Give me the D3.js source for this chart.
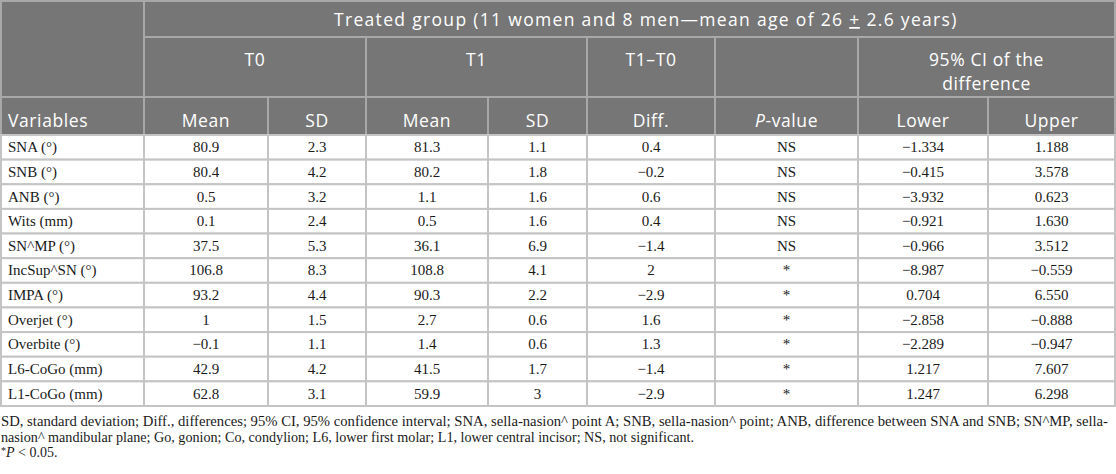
<!DOCTYPE html>
<html>
<head>
<meta charset="utf-8">
<script src="https://cdn.jsdelivr.net/npm/d3@7"></script>
<style>
  body { margin: 0; background: #fff; }
</style>
</head>
<body>
<div id="table"></div>
<script>
document.addEventListener('DOMContentLoaded', () => {

  // table values
  const variables = ['SNA (°)', 'SNB (°)', 'ANB (°)', 'Wits (mm)', 'SN^MP (°)', 'IncSup^SN (°)',
                     'IMPA (°)', 'Overjet (°)', 'Overbite (°)', 'L6-CoGo (mm)', 'L1-CoGo (mm)'];
  const t0Mean = ['80.9', '80.4', '0.5', '0.1', '37.5', '106.8', '93.2', '1', '−0.1', '42.9', '62.8'];
  const t0SD = ['2.3', '4.2', '3.2', '2.4', '5.3', '8.3', '4.4', '1.5', '1.1', '4.2', '3.1'];
  const t1Mean = ['81.3', '80.2', '1.1', '0.5', '36.1', '108.8', '90.3', '2.7', '1.4', '41.5', '59.9'];
  const t1SD = ['1.1', '1.8', '1.6', '1.6', '6.9', '4.1', '2.2', '0.6', '0.6', '1.7', '3'];
  const diffs = ['0.4', '−0.2', '0.6', '0.4', '−1.4', '2', '−2.9', '1.6', '1.3', '−1.4', '−2.9'];
  const pValues = ['NS', 'NS', 'NS', 'NS', 'NS', '*', '*', '*', '*', '*', '*'];
  const ciLower = ['−1.334', '−0.415', '−3.932', '−0.921', '−0.966', '−8.987', '0.704', '−2.858', '−2.289', '1.217', '1.247'];
  const ciUpper = ['1.188', '3.578', '0.623', '1.630', '3.512', '−0.559', '6.550', '−0.888', '−0.947', '7.607', '6.298'];

  const subHeaders = ['Variables', 'Mean', 'SD', 'Mean', 'SD', 'Diff.', 'P-value', 'Lower', 'Upper'];
  const groupTitle = 'Treated group (11 women and 8 men—mean age of 26 + 2.6 years)';
  const footnotes = [
    'SD, standard deviation; Diff., differences; 95% CI, 95% confidence interval; SNA, sella-nasion^ point A; SNB, sella-nasion^ point; ANB, difference between SNA and SNB; SN^MP, sella-',
    'nasion^ mandibular plane; Go, gonion; Co, condylion; L6, lower first molar; L1, lower central incisor; NS, not significant.'
  ];

  const width = 1116;
  const height = 474;

  // layout
  const colEdges = [1, 144, 268, 366, 488, 587, 715, 858, 988, 1115];
  const headEdges = [1, 37, 97, 135];
  const bodyBottom = 406;

  const headFill = '#767676';
  const headLine = '#a8a8a8';
  const bodyLine = '#c4c4c4';
  const sans = "'Open Sans', 'Noto Sans', sans-serif";
  const serif = "'Liberation Serif', 'DejaVu Serif', serif";

  const svg = d3.select('#table')
                .append('svg')
                .attr('width', width)
                .attr('height', height);

  const y = d3.scaleBand()
              .domain(variables)
              .range([headEdges[3], bodyBottom]);

  const colMid = (c0, c1) => (colEdges[c0] + colEdges[c1]) / 2;

  // header cells
  const headCells = [
    { c0: 0, c1: 1, r0: 0, r1: 2 },
    { c0: 1, c1: 9, r0: 0, r1: 1 },
    { c0: 1, c1: 3, r0: 1, r1: 2 },
    { c0: 3, c1: 5, r0: 1, r1: 2 },
    { c0: 5, c1: 6, r0: 1, r1: 2 },
    { c0: 6, c1: 7, r0: 1, r1: 2 },
    { c0: 7, c1: 9, r0: 1, r1: 2 }
  ];
  subHeaders.forEach((d, i) => headCells.push({ c0: i, c1: i + 1, r0: 2, r1: 3 }));

  svg.append('g')
     .selectAll('rect')
     .data(headCells)
     .enter()
     .append('rect')
     .attr('x', (d) => colEdges[d.c0])
     .attr('y', (d) => headEdges[d.r0])
     .attr('width', (d) => colEdges[d.c1] - colEdges[d.c0])
     .attr('height', (d) => headEdges[d.r1] - headEdges[d.r0])
     .attr('fill', headFill)
     .attr('stroke', headLine)
     .attr('stroke-width', 2);

  const head = svg.append('g')
                  .attr('fill', '#fff')
                  .style('font-family', sans)
                  .style('font-size', '17.5px')
                  .style('letter-spacing', '0.6px');

  // group title with underlined plus (sits a bit right of the cell centre)
  const title = head.append('text')
                    .attr('x', 334)
                    .attr('y', 26)
                    .attr('textLength', 623)
                    .attr('lengthAdjust', 'spacing');
  const titleParts = groupTitle.split('+');
  title.append('tspan').text(titleParts[0]);
  title.append('tspan').style('text-decoration', 'underline').text('+');
  title.append('tspan').text(titleParts[1]);

  const midLabels = [
    { text: 'T0', x: colMid(1, 3), y: 66 },
    { text: 'T1', x: colMid(3, 5), y: 66 },
    { text: 'T1–T0', x: colMid(5, 6), y: 66 },
    { text: '95% CI of the', x: colMid(7, 9), y: 66 },
    { text: 'difference', x: colMid(7, 9), y: 90 }
  ];

  head.selectAll('.mid')
      .data(midLabels)
      .enter()
      .append('text')
      .attr('class', 'mid')
      .attr('x', (d) => d.x)
      .attr('y', (d) => d.y)
      .attr('text-anchor', 'middle')
      .text((d) => d.text);

  const sub = head.selectAll('.sub')
                  .data(subHeaders)
                  .enter()
                  .append('text')
                  .attr('class', 'sub')
                  .attr('x', (d, i) => i === 0 ? colEdges[0] + 7 : colMid(i, i + 1))
                  .attr('y', 127)
                  .attr('text-anchor', (d, i) => i === 0 ? 'start' : 'middle');

  sub.each(function (d) {
    const t = d3.select(this);
    if (d.startsWith('P-')) {
      t.append('tspan').style('font-style', 'italic').text('P');
      t.append('tspan').text(d.slice(1));
    } else {
      t.text(d);
    }
  });

  // body
  const columns = [variables, t0Mean, t0SD, t1Mean, t1SD, diffs, pValues, ciLower, ciUpper];

  const rows = svg.append('g')
                  .selectAll('g')
                  .data(variables)
                  .enter()
                  .append('g')
                  .attr('transform', (d) => 'translate(0, ' + y(d) + ')');

  rows.selectAll('rect')
      .data(columns.map((c, i) => i))
      .enter()
      .append('rect')
      .attr('x', (i) => colEdges[i])
      .attr('y', 0)
      .attr('width', (i) => colEdges[i + 1] - colEdges[i])
      .attr('height', y.bandwidth())
      .attr('fill', '#fff')
      .attr('stroke', bodyLine)
      .attr('stroke-width', 2);

  rows.selectAll('text')
      .data((d, r) => columns.map((c, i) => ({ col: i, value: c[r] })))
      .enter()
      .append('text')
      .attr('x', (d) => d.col === 0 ? colEdges[0] + 7 : colMid(d.col, d.col + 1))
      .attr('y', y.bandwidth() / 2 + 5)
      .attr('text-anchor', (d) => d.col === 0 ? 'start' : 'middle')
      .attr('fill', '#1a1a1a')
      .style('font-family', serif)
      .style('font-size', '15px')
      .text((d) => d.value);

  // footnotes
  const notes = svg.append('g')
                   .attr('fill', '#1a1a1a')
                   .style('font-family', serif)
                   .style('font-size', '14px');

  const noteWidths = [1107, 693];

  notes.selectAll('.note')
       .data(footnotes)
       .enter()
       .append('text')
       .attr('class', 'note')
       .attr('x', 1)
       .attr('y', (d, i) => 426 + i * 15.5)
       .attr('textLength', (d, i) => noteWidths[i])
       .attr('lengthAdjust', 'spacingAndGlyphs')
       .text((d) => d);

  const sig = notes.append('text')
                   .attr('x', 1)
                   .attr('y', 457);
  sig.append('tspan').style('font-size', '10px').attr('dy', -3).text('*');
  sig.append('tspan').style('font-style', 'italic').attr('dy', 3).text('P');
  sig.append('tspan').text(' < 0.05.');

});
</script>
</body>
</html>
